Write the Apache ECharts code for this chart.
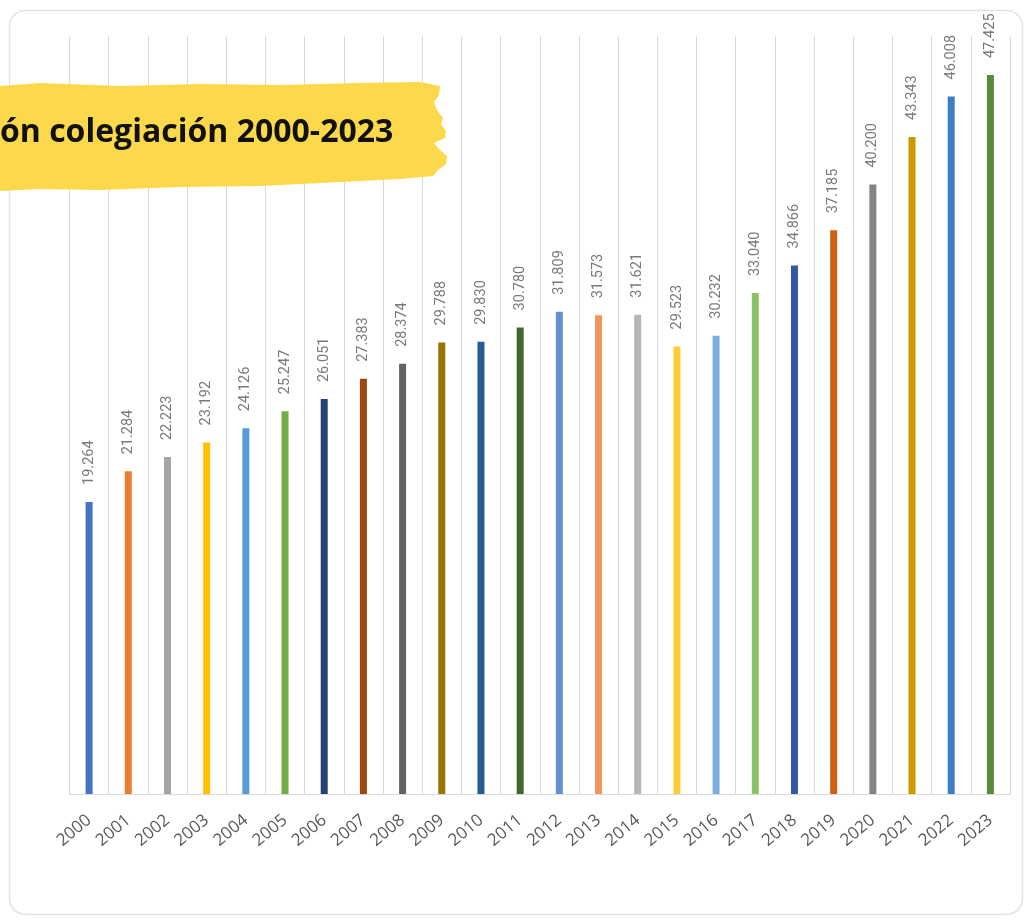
<!DOCTYPE html>
<html>
<head>
<meta charset="utf-8">
<script src="https://cdn.jsdelivr.net/npm/echarts@6/dist/echarts.min.js"></script>
<style>
html,body{margin:0;padding:0;background:#fff;}
#chart{width:1027px;height:920px;}
</style>
</head>
<body>
<div id="chart"></div>
<script>
const years = ['2000','2001','2002','2003','2004','2005','2006','2007','2008','2009','2010','2011','2012','2013','2014','2015','2016','2017','2018','2019','2020','2021','2022','2023'];
const values = [19264,21284,22223,23192,24126,25247,26051,27383,28374,29788,29830,30780,31809,31573,31621,29523,30232,33040,34866,37185,40200,43343,46008,47425];
const barColors = ['#4472C4','#ED7D31','#A5A5A5','#FFC000','#5B9BD5','#70AD47','#264478','#9E480E','#636363','#997300','#255E91','#43682B','#698ED0','#F1975A','#B7B7B7','#FFCD33','#7CAFDD','#8CC168','#335AA1','#D26012','#848484','#CC9A00','#3A7FC4','#5A8A39'];
const titleText = 'ón colegiación 2000-2023';

const chart = echarts.init(document.getElementById('chart'));
const fmt = v => {
  const s = String(v);
  return s.length > 3 ? s.slice(0, s.length - 3) + '.' + s.slice(-3) : s;
};
chart.setOption({
  animation: false,
  grid: {left: 69.5, right: 17, top: 36, bottom: 126},
  xAxis: {
    type: 'category',
    data: years,
    axisLine: {show: true, lineStyle: {color: '#d9d9d9', width: 1}},
    axisTick: {show: false},
    splitLine: {show: true, interval: 0, lineStyle: {color: '#d9d9d9', width: 1}},
    axisLabel: {interval: 0, rotate: 40, color: '#595959', fontSize: 17, fontFamily: 'Open Sans', margin: 24}
  },
  yAxis: {
    type: 'value', min: 0, max: 50000, show: false,
    splitLine: {show: false}
  },
  series: [{
    type: 'bar',
    barWidth: 7,
    data: values.map((v, i) => ({value: v, itemStyle: {color: barColors[i]}})),
    label: {
      show: true,
      position: 'top',
      rotate: 90,
      align: 'left',
      verticalAlign: 'middle',
      distance: 15,
      offset: [2, 0],
      color: '#7a7a7a',
      fontSize: 14.5,
      fontFamily: 'Roboto',
      formatter: p => fmt(p.value)
    }
  }],
  graphic: [
    {
      type: 'rect', z: -1, silent: true,
      shape: {x: 9.5, y: 10.5, width: 1013, height: 904, r: 16},
      style: {fill: 'none', stroke: '#e2e2e2', lineWidth: 1.5}
    },
    {
      type: 'polygon', z: 100, silent: true,
      shape: {points: [
        [0,86],[40,83],[120,86],[200,84],[280,85],[360,83],[420,82],[440,86],[439,95],
        [434,102],[437,110],[443,118],[441,124],[446,131],[445,138],[434,143],[440,150],
        [447,156],[446,164],[438,170],[433,176],[400,179],[340,182],[260,186],[180,187],[100,190],[40,189],[0,191]
      ]},
      style: {fill: '#FCD94A'}
    },
    {
      type: 'text', z: 101, silent: true,
      left: 0, top: 117,
      style: {text: titleText, fill: '#111111', font: 'bold 32px "Open Sans"'}
    }
  ]
});
</script>
</body>
</html>
